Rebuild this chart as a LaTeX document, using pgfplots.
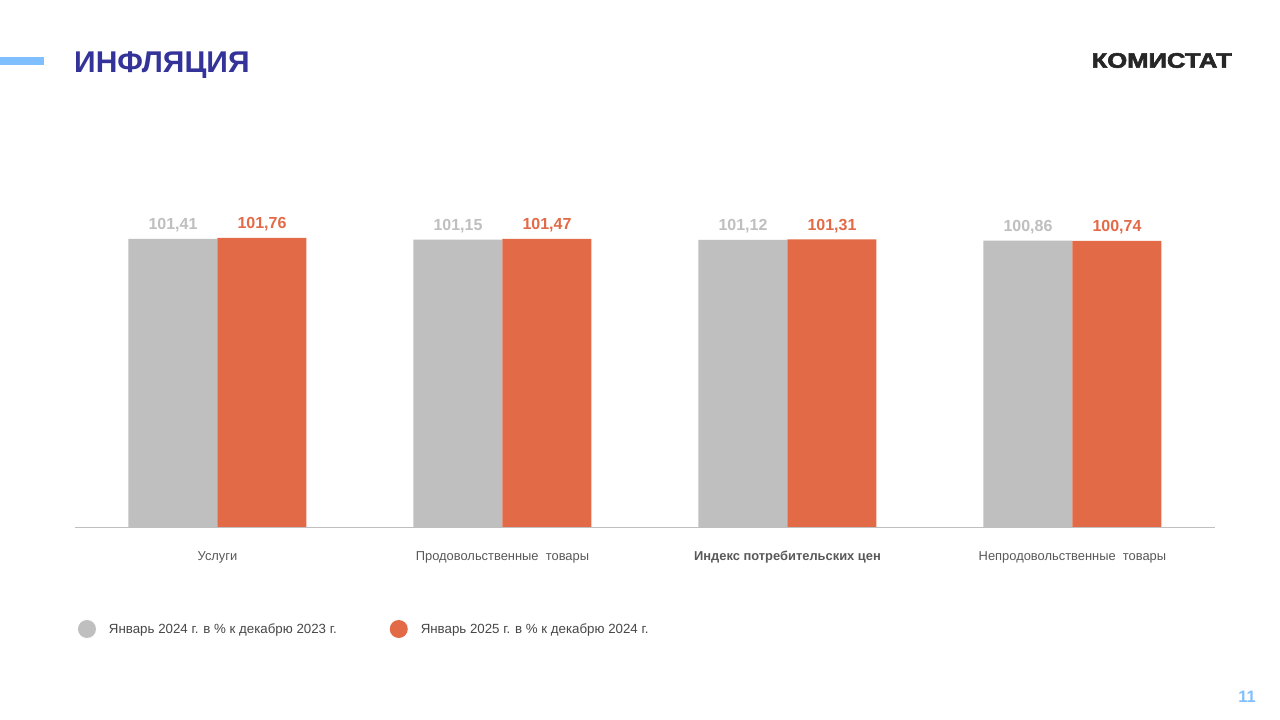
\documentclass[border=0pt]{standalone}
\usepackage{pgfplots}
\pgfplotsset{compat=1.18}
\usepackage{fontspec}
\setmainfont{Liberation Sans}
\newfontfamily\logofont[FakeBold=2.5]{Liberation Sans Bold}
\definecolor{cgrey}{HTML}{BFBFBF}
\definecolor{corange}{HTML}{E36A47}
\definecolor{ctitle}{HTML}{333399}
\definecolor{cbluebar}{HTML}{80BFFF}
\definecolor{ctext}{HTML}{595959}
\definecolor{clogo}{HTML}{262626}
\definecolor{cpage}{HTML}{80BFFF}
\begin{document}
\begin{tikzpicture}[x=1pt,y=1pt]
\path[use as bounding box,fill=white] (0,0) rectangle (1280,720);
% header
\fill[cbluebar] (0,655) rectangle (44,663);
\node[anchor=west,inner sep=0pt,text=ctitle,font=\fontsize{30}{36}\selectfont\bfseries] at (74,655) {ИНФЛЯЦИЯ};
\node[anchor=east,inner sep=0pt,text=clogo,font=\fontsize{21}{25}\selectfont\logofont,xscale=1.22] at (1232,659.5) {КОМИСТАТ};
\node[anchor=center,inner sep=0pt,text=cpage,font=\fontsize{16.5}{19}\selectfont\bfseries] at (1247,23.5) {11};
\begin{axis}[
  at={(75pt,193pt)}, anchor=south west,
  scale only axis, width=1140pt, height=340.8pt,
  ybar=0pt, bar width=89pt,
  xmin=-0.5, xmax=3.5, ymin=0, ymax=120,
  axis x line*=bottom, axis y line=none,
  x axis line style={draw=cgrey, line width=0.8pt},
  xtick=data, ytick=\empty, major tick length=0pt,
  xticklabels={Услуги, Продовольственные\ \ товары, \textbf{Индекс потребительских цен}, Непродовольственные\ \ товары},
  xticklabel style={font=\fontsize{12.9}{15}\selectfont, text=ctext, anchor=base, yshift=-34pt},
  nodes near coords,
  every node near coord/.append style={font=\fontsize{16}{19}\selectfont\bfseries, yshift=3pt},
  legend columns=2,
  legend style={draw=none, fill=none, inner sep=0pt, outer sep=0pt,
    at={(axis description cs:0.00263,-0.2993)}, anchor=west,
    font=\fontsize{13.3}{16}\selectfont, text=ctext!80!black,
    /tikz/every odd column/.append style={column sep=11pt},
    /tikz/every even column/.append style={column sep=51pt}},
  legend image code/.code={\fill (9pt,0pt) circle (9pt);},
  /pgf/number format/fixed, /pgf/number format/fixed zerofill,
  /pgf/number format/precision=2, /pgf/number format/use comma,
  /pgf/number format/assume math mode=true,
]
\addplot[fill=cgrey, draw=none, every node near coord/.append style={text=cgrey}] coordinates {(0,101.41) (1,101.15) (2,101.12) (3,100.86)};
\addplot[fill=corange, draw=none, every node near coord/.append style={text=corange}] coordinates {(0,101.76) (1,101.47) (2,101.31) (3,100.74)};
\legend{Январь 2024 г. в \% к декабрю 2023 г., Январь 2025 г. в \% к декабрю 2024 г.}
\end{axis}
\end{tikzpicture}
\end{document}
